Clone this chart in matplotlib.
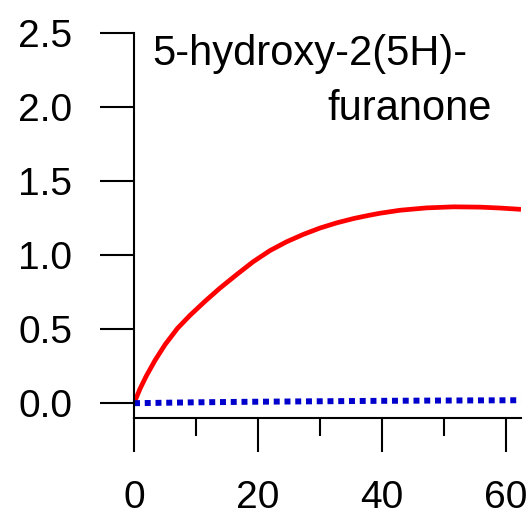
import matplotlib
matplotlib.use('Agg')
from matplotlib import pyplot as plt

# valores
tempo = [0, 1, 2, 3.4, 5, 7, 9, 11.5, 13.8, 16.6, 19.2, 21.9, 24.6, 27.3, 30,
         32.7, 35.4, 37.8, 39.7, 42.9, 47.2, 51.5, 55.8, 59, 62.4]
vermelho = [0, 0.10, 0.185, 0.29, 0.395, 0.505, 0.592, 0.69, 0.775, 0.87, 0.955,
            1.03, 1.09, 1.14, 1.183, 1.218, 1.247, 1.268, 1.283, 1.303, 1.319,
            1.326, 1.324, 1.318, 1.309]
tempo_azul = [0, 10, 20, 30, 40, 50, 62.4]
azul = [0, 0.006, 0.01, 0.013, 0.016, 0.018, 0.02]

xticks = [0, 20, 40, 60]
xminor = [10, 30, 50]
yticks = [0.0, 0.5, 1.0, 1.5, 2.0, 2.5]

plt.rcParams['font.family'] = ['Liberation Sans', 'DejaVu Sans']

fig = plt.figure(figsize=(5.28, 5.16), dpi=100)
ax = fig.add_axes([134/528, 98/516, 387/528, 385/516])

ax.plot(tempo, vermelho, color='#ff0000', lw=3.4, solid_capstyle='butt',
        solid_joinstyle='round')
ax.plot(tempo_azul, azul, color='#0000cc', lw=4.3, linestyle=(0, (1.0, 0.8)))

ax.set_xlim(0, 62.4)
ax.set_ylim(-0.1, 2.5)

#eixos no estilo igor
for lado in ['top', 'right']:
    ax.spines[lado].set_visible(False)
for lado in ['left', 'bottom']:
    ax.spines[lado].set_linewidth(1.5)

ax.set_xticks(xticks)
ax.set_xticks(xminor, minor=True)
ax.set_yticks(yticks)
ax.set_yticklabels(['%.1f' % v for v in yticks])
ax.tick_params(axis='both', which='major', direction='out', length=24.5, width=1.5,
               labelsize=28)
ax.tick_params(axis='y', pad=20)
ax.tick_params(axis='x', pad=20)
ax.tick_params(axis='x', which='minor', direction='out', length=13, width=1.5)

ax.text(0.0465, 0.917, '5-hydroxy-2(5H)-', transform=ax.transAxes, fontsize=30,
        ha='left', va='baseline')
ax.text(0.925, 0.774, 'furanone', transform=ax.transAxes, fontsize=30,
        ha='right', va='baseline')

fig.savefig('out.png', dpi=100)
